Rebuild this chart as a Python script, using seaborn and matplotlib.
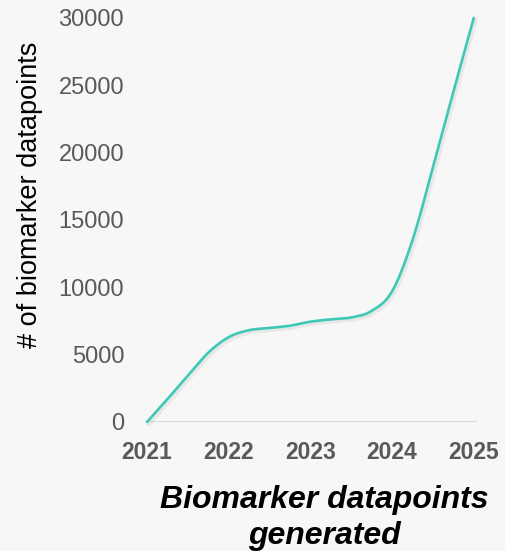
import numpy as np
import pandas as pd
import matplotlib
matplotlib.use("Agg")
import matplotlib.pyplot as plt
import matplotlib.patheffects as pe
import seaborn as sns

# Quarterly cumulative counts of biomarker datapoints
quarters = [2021.00, 2021.25, 2021.50, 2021.75, 2022.00, 2022.25, 2022.50, 2022.75,
            2023.00, 2023.25, 2023.50, 2023.75, 2024.00, 2024.25, 2024.50, 2024.75, 2025.00]
datapoints = [0, 1700, 3450, 5150, 6300, 6820, 6980, 7150,
              7450, 7620, 7760, 8250, 9700, 13500, 18900, 24500, 30000]
year_ticks = [2021, 2022, 2023, 2024, 2025]
year_labels = ["2021", "2022", "2023", "2024", "2025"]
y_ticks = [0, 5000, 10000, 15000, 20000, 25000, 30000]

BG = "#f7f7f7"
LINE = "#3ec9b6"
TICK_GREY = "#595959"


def catmull_rom(x, y, n=30):
    """Smooth a polyline with a uniform Catmull-Rom spline."""
    x = np.asarray(x, float)
    y = np.asarray(y, float)
    px = np.concatenate([[2 * x[0] - x[1]], x, [2 * x[-1] - x[-2]]])
    py = np.concatenate([[2 * y[0] - y[1]], y, [2 * y[-1] - y[-2]]])
    xs, ys = [], []
    t = np.linspace(0, 1, n, endpoint=False)
    for i in range(1, len(px) - 2):
        for arr, out in ((px, xs), (py, ys)):
            p0, p1, p2, p3 = arr[i - 1], arr[i], arr[i + 1], arr[i + 2]
            out.append(0.5 * ((2 * p1) + (-p0 + p2) * t
                              + (2 * p0 - 5 * p1 + 4 * p2 - p3) * t ** 2
                              + (-p0 + 3 * p1 - 3 * p2 + p3) * t ** 3))
    xs.append([x[-1]])
    ys.append([y[-1]])
    return np.concatenate(xs), np.concatenate(ys)


sx, sy = catmull_rom(quarters, datapoints)
curve = pd.DataFrame({"year": sx, "count": sy})

sns.set_theme(style="white")
plt.rcParams["font.family"] = ["Liberation Sans", "DejaVu Sans"]

fig = plt.figure(figsize=(5.06, 5.51), dpi=100, facecolor=BG)
ax = fig.add_axes([145 / 506, 1 - 422 / 551, 332 / 506, 404 / 551])
ax.set_facecolor(BG)

sns.lineplot(data=curve, x="year", y="count", ax=ax, color=LINE, linewidth=1.9,
             sort=False, estimator=None, clip_on=False, zorder=3)
ax.lines[0].set_path_effects([
    pe.SimpleLineShadow(offset=(1.2, -1.2), shadow_color="#000000", alpha=0.06, linewidth=3.5),
    pe.Normal(),
])

# light baseline along zero
ax.axhline(0, color="#d9d9d9", linewidth=2.2, zorder=1)

ax.set_xlim(2020.975, 2025.04)
ax.set_ylim(0, 30000)
ax.set_xticks(year_ticks)
ax.set_xticklabels(year_labels, fontsize=16.5, fontweight="bold", color=TICK_GREY)
ax.set_yticks(y_ticks)
ax.set_yticklabels([str(v) for v in y_ticks], fontsize=17, color=TICK_GREY)
ax.tick_params(axis="y", length=0, pad=15)
ax.tick_params(axis="x", length=0, pad=14)
ax.set_xlabel("")
ax.set_ylabel("")
for s in ax.spines.values():
    s.set_visible(False)

fig.text(30 / 506, 1 - 195 / 551, "# of biomarker datapoints", rotation=90,
         ha="center", va="center", fontsize=19.5, color="black")
fig.text(324 / 506, 1 - 518 / 551, "Biomarker datapoints\ngenerated",
         ha="center", va="center", fontsize=23, fontweight="bold", fontstyle="italic",
         color="black", linespacing=1.3)

fig.savefig("out.png", dpi=100, facecolor=BG)
